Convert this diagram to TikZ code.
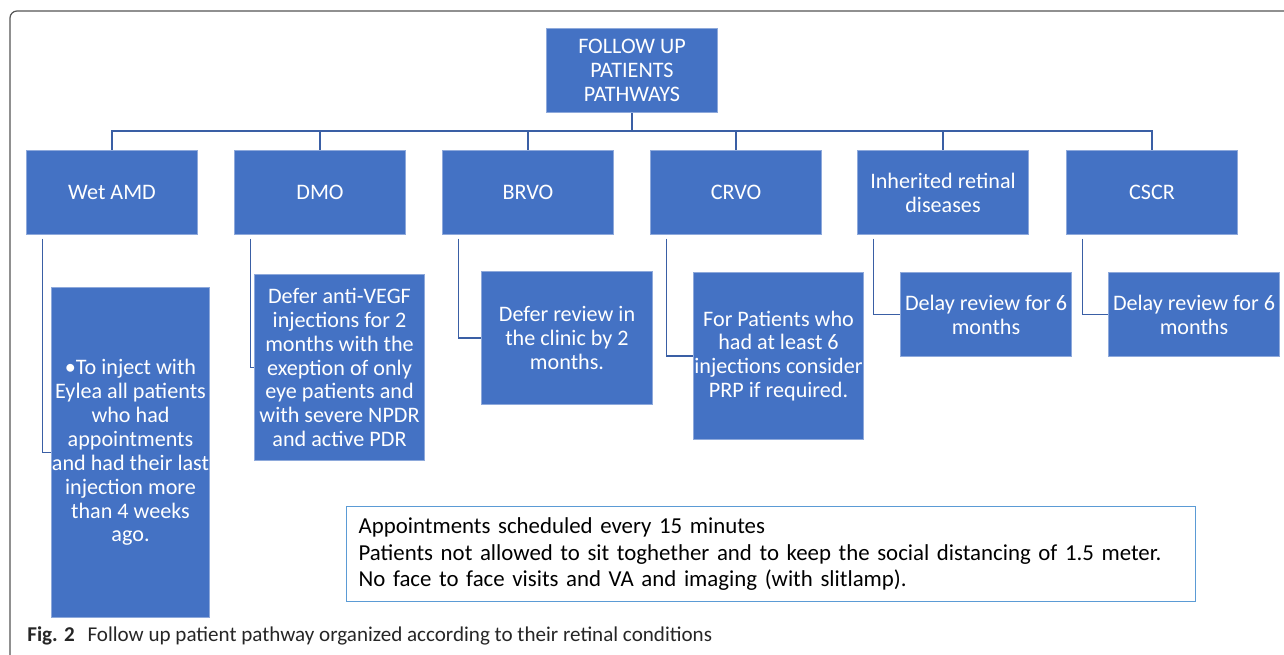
\documentclass[tikz,border=0pt]{standalone}
\usepackage{fontspec}
\setmainfont{Carlito}
\usepackage{tikz}
\usetikzlibrary{positioning,calc}

\definecolor{boxblue}{HTML}{4472C4}
\definecolor{boxedge}{HTML}{8EA9DB}
\definecolor{linkblue}{HTML}{3A5FA5}
\definecolor{noteedge}{HTML}{5B9BD5}
\definecolor{framegray}{HTML}{555555}

\begin{document}
\begin{tikzpicture}[x=0.02cm,y=-0.02cm,
  cond/.style={fill=boxblue,draw=boxedge,line width=0.6pt,text=white,anchor=north west,
    minimum width=3.42cm,minimum height=1.68cm,inner sep=1pt,align=center,
    font=\fontsize{12.6}{13.6}\selectfont},
  link/.style={draw=linkblue,line width=0.8pt},
  note/.style={draw=noteedge,line width=0.7pt,anchor=north west,minimum width=16.98cm,
    minimum height=1.9cm,inner xsep=0.2cm,align=left,text width=16.5cm,
    font=\fontsize{13}{15}\selectfont}]
\useasboundingbox (0,0) rectangle (1284,655);
\draw[framegray,line width=0.7pt,rounded corners=0.14cm] (10,655) -- (10,11) -- (1284,11);

\node[cond] (root) at (546,28) {FOLLOW UP\\PATIENTS\\PATHWAYS};
\coordinate (bus) at (631,131);

\node[cond] (wet)  at (26,150)   {Wet AMD};
\node[cond] (dmo)  at (234,150)  {DMO};
\node[cond] (brvo) at (442,150)  {BRVO};
\node[cond] (crvo) at (650,150)  {CRVO};
\node[cond] (ird)  at (857,150)  {Inherited retinal\\diseases};
\node[cond] (cscr) at (1066,150) {CSCR};

\node[cond,inner xsep=-3pt,minimum width=3.16cm,minimum height=6.6cm] (wet-r) at (51,287)
  {\textbullet To inject with\\Eylea all patients\\who had\\appointments\\and had their last\\injection more\\than 4 weeks\\ago.};
\node[cond,inner xsep=-3pt,minimum width=3.4cm,minimum height=3.72cm] (dmo-r) at (254,274)
  {Defer anti-VEGF\\injections for 2\\months with the\\exeption of only\\eye patients and\\with severe NPDR\\and active PDR};
\node[cond,minimum height=2.66cm] (brvo-r) at (481,271)
  {Defer review in\\the clinic by 2\\months.};
\node[cond,inner xsep=-3pt,minimum width=3.4cm,minimum height=3.34cm] (crvo-r) at (693,272)
  {For Patients who\\had at least 6\\injections consider\\PRP if required.};
\node[cond] (ird-r)  at (900,272)  {Delay review for 6\\months};
\node[cond] (cscr-r) at (1108,272) {Delay review for 6\\months};

\foreach \n in {wet,dmo,brvo,crvo,ird,cscr}
  \draw[link] (root.south) -- (root.south |- bus) -| (\n.north);
\foreach \n in {wet,dmo,brvo,crvo,ird,cscr}
  \draw[link] ([xshift=0.33cm,yshift=-2pt]\n.south west) |- (\n-r.west);

\node[note] (rules) at (346,506)
  {Appointments scheduled every 15 minutes\\
   Patients not allowed to sit toghether and to keep the social distancing of 1.5 meter.\\
   No face to face visits and VA and imaging (with slitlamp).};

\node[anchor=base west,inner sep=0pt,text=black!85,font=\fontsize{12}{13}\selectfont] (caption) at (27,641)
  {\textbf{Fig. 2}\hspace{0.6em}Follow up patient pathway organized according to their retinal conditions};
\end{tikzpicture}
\end{document}
